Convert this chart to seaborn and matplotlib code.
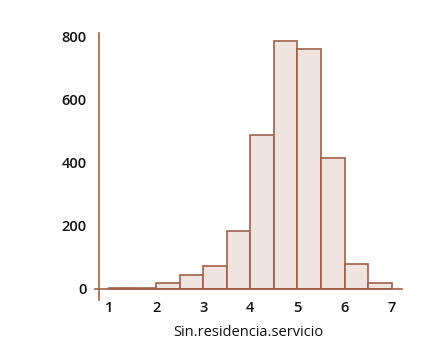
import numpy as np
import matplotlib
matplotlib.use("Agg")
import matplotlib.pyplot as plt
import seaborn as sns

# Data (bins of width 0.5 from 1 to 7)
bin_edges = [1.0, 1.5, 2.0, 2.5, 3.0, 3.5, 4.0, 4.5, 5.0, 5.5, 6.0, 6.5, 7.0]
counts = [3, 3, 18, 44, 71, 184, 488, 786, 760, 416, 78, 17]
x_ticks = [1, 2, 3, 4, 5, 6, 7]
y_ticks = [0, 200, 400, 600, 800]
x_label = "Sin.residencia.servicio"

bin_centers = [(a + b) / 2 for a, b in zip(bin_edges[:-1], bin_edges[1:])]

sns.set_style("white")
plt.rcParams["font.family"] = ["Open Sans", "DejaVu Sans"]

edge = "#A0604A"
fill = "#F0E4E0"

fig = plt.figure(figsize=(4.23, 3.55), dpi=100)
ax = fig.add_axes([95 / 423, 55 / 355, 307 / 423, 267 / 355])

sns.histplot(x=bin_centers, weights=counts, bins=bin_edges, ax=ax,
             color=fill, edgecolor=edge, linewidth=1.2, alpha=1.0)

ax.set_xlim(0.70, 7.22)
ax.set_ylim(-36, 812)
ax.spines["top"].set_visible(False)
ax.spines["right"].set_visible(False)
ax.spines["left"].set_position(("data", 0.79))
ax.spines["bottom"].set_position(("data", 0))
for s in ("left", "bottom"):
    ax.spines[s].set_color(edge)
    ax.spines[s].set_linewidth(1.2)

ax.set_xticks(x_ticks)
ax.set_yticks(y_ticks)
ax.tick_params(axis="both", direction="out", length=5, width=1.2, color=edge,
               labelsize=10.5, labelcolor="#111111", pad=4)
for lab in ax.get_xticklabels() + ax.get_yticklabels():
    lab.set_fontweight("semibold")

ax.set_ylabel("")
ax.set_xlabel(x_label, fontsize=10.5, color="#111111", labelpad=2)
ax.xaxis.set_label_coords(0.5, -0.093)

fig.savefig("out.png", dpi=100, facecolor="white")
